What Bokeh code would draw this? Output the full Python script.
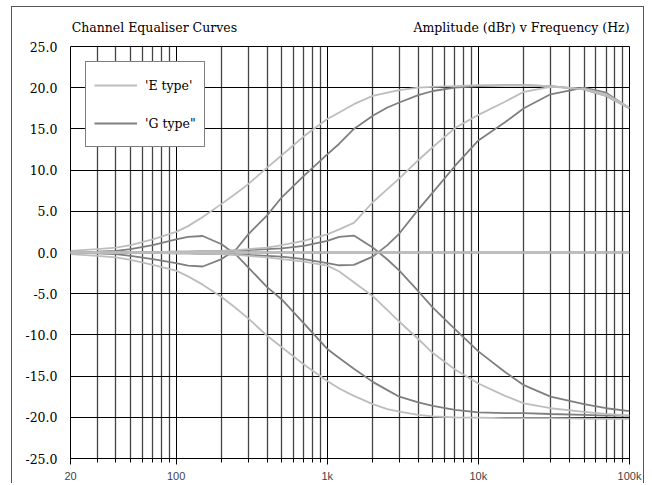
from bokeh.plotting import figure
from bokeh.models import (Range1d, FixedTicker, PrintfTickFormatter, LogAxis,
                          Legend, LegendItem)
from bokeh.embed import file_html
from bokeh.resources import INLINE

# ---- data ----
FREQ = [20, 30, 40, 50, 70, 100, 120, 150, 200, 250, 300, 400, 500, 700,
        1000, 1200, 1500, 2000, 2500, 3000, 4000, 5000, 7000, 10000, 15000,
        20000, 30000, 50000, 70000, 100000]

E_LOW_BOOST = [0.2, 0.4, 0.6, 0.9, 1.6, 2.5, 3.2, 4.3, 5.9, 7.2, 8.3, 10.3, 11.8, 14.1,
               16.2, 17.0, 18.0, 19.0, 19.4, 19.7, 20.0, 20.1, 20.2, 20.3, 20.3,
               20.3, 20.2, 19.8, 19.0, 17.5]
E_LOW_CUT = [-0.2, -0.4, -0.6, -0.9, -1.5, -2.2, -2.9, -3.9, -5.4, -6.8, -8.0, -10.1, -11.5, -13.6,
             -15.6, -16.5, -17.4, -18.4, -19.0, -19.3, -19.7, -19.9, -20.0, -20.05, -20.1,
             -20.1, -20.1, -20.15, -20.2, -20.2]
G_LOW_BOOST = [0.0, -0.1, -0.2, -0.4, -0.8, -1.3, -1.6, -1.7, -0.8, 0.4, 2.2, 4.5, 6.7, 9.3,
               11.9, 13.2, 15.0, 16.6, 17.6, 18.2, 19.1, 19.6, 20.0, 20.2, 20.3,
               20.3, 20.2, 19.8, 19.0, 17.5]
G_LOW_CUT = [0.0, 0.1, 0.2, 0.4, 0.9, 1.6, 1.9, 2.0, 1.0, -0.3, -1.8, -4.2, -5.7, -8.6,
             -11.7, -12.8, -14.1, -15.7, -16.7, -17.5, -18.2, -18.6, -19.1, -19.4, -19.5,
             -19.5, -19.6, -19.7, -19.8, -19.8]
E_HIGH_BOOST = [0.0, 0.0, 0.0, 0.05, 0.05, 0.1, 0.1, 0.15, 0.2, 0.3, 0.4, 0.6, 0.9, 1.4,
                2.2, 2.8, 3.6, 6.1, 7.7, 9.0, 11.2, 12.8, 15.1, 16.7, 18.3,
                19.5, 20.1, 19.9, 19.2, 17.6]
E_HIGH_CUT = [0.0, 0.0, 0.0, -0.05, -0.05, -0.1, -0.1, -0.15, -0.2, -0.3, -0.4, -0.6, -0.8, -1.1,
              -1.6, -2.3, -3.6, -5.3, -7.0, -8.4, -10.5, -12.2, -14.2, -15.9, -17.4,
              -18.3, -18.9, -19.35, -19.6, -19.8]
G_HIGH_BOOST = [0.0, 0.0, 0.0, -0.05, -0.05, -0.1, -0.1, -0.15, -0.2, -0.25, -0.3, -0.4, -0.5, -0.8,
                -1.3, -1.55, -1.5, -0.5, 0.9, 2.3, 5.2, 7.3, 10.5, 13.6, 15.8,
                17.5, 19.2, 20.0, 19.4, 17.5]
G_HIGH_CUT = [0.0, 0.0, 0.0, 0.05, 0.05, 0.1, 0.1, 0.15, 0.2, 0.25, 0.3, 0.4, 0.5, 0.8,
              1.4, 1.9, 2.05, 0.6, -0.85, -2.2, -4.7, -6.7, -9.3, -12.0, -14.5,
              -16.1, -17.5, -18.4, -18.9, -19.25]
FLAT = [0.0] * len(FREQ)

X_TICKS = [20, 100, 1000, 10000, 100000]
X_TICK_LABELS = ["20", "100", "1k", "10k", "100k"]
X_MINOR = [30, 40, 50, 60, 70, 80, 90,
           200, 300, 400, 500, 600, 700, 800, 900,
           2000, 3000, 4000, 5000, 6000, 7000, 8000, 9000,
           20000, 30000, 40000, 50000, 60000, 70000, 80000, 90000]
Y_TICKS = [-25, -20, -15, -10, -5, 0, 5, 10, 15, 20, 25]

# header texts, placed on an axis above the frame (centre positions in Hz)
HEADER_TEXTS = ["Channel Equaliser Curves", "Amplitude (dBr)  v  Frequency (Hz)"]
HEADER_POS = [71.8, 20500.0]
LEGEND_LABELS = ["'E type'", "'G type\""]

E_COLOR = "#bdbdbd"
G_COLOR = "#7f7f7f"
FONT = "DejaVu Serif"
FSIZE = "12.5px"

p = figure(width=633, height=477, x_axis_type="log",
           x_range=Range1d(20, 100000), y_range=Range1d(-25, 25),
           output_backend="svg", toolbar_location=None, title=None,
           min_border_left=58, min_border_right=16, min_border_top=39,
           min_border_bottom=26)
p.styles = {"margin-left": "11px", "margin-top": "6px",
            "border-left": "1px solid #555555", "border-top": "1px solid #555555",
            "border-right": "1px solid #555555"}

p.outline_line_color = "black"
p.outline_line_width = 1
p.background_fill_color = "white"
p.border_fill_color = "white"

xt = FixedTicker(ticks=X_TICKS, minor_ticks=X_MINOR)
p.xaxis.ticker = xt
p.xgrid.ticker = xt
p.xaxis.major_label_overrides = {float(v): s for v, s in zip(X_TICKS, X_TICK_LABELS)}
yt = FixedTicker(ticks=Y_TICKS)
p.yaxis.ticker = yt
p.ygrid.ticker = yt
p.yaxis.formatter = PrintfTickFormatter(format="%.1f")

top_axis = LogAxis(ticker=FixedTicker(ticks=HEADER_POS),
                   major_label_overrides={float(v): s for v, s in zip(HEADER_POS, HEADER_TEXTS)})
p.add_layout(top_axis, "above")

for ax in (p.xaxis[0], p.yaxis[0], top_axis):
    ax.axis_line_color = None
    ax.major_tick_line_color = None
    ax.minor_tick_line_color = None
    ax.major_tick_out = 0
    ax.major_tick_in = 0
    ax.minor_tick_out = 0
    ax.minor_tick_in = 0
    ax.major_label_text_font = FONT
    ax.major_label_text_font_size = FSIZE
    ax.major_label_text_color = "black"
p.xaxis[0].major_label_standoff = 5
p.yaxis.major_label_standoff = 13
top_axis.major_label_standoff = 12

p.xgrid.grid_line_color = "black"
p.xgrid.grid_line_width = 1
p.xgrid.minor_grid_line_color = "#444444"
p.xgrid.minor_grid_line_width = 1.3
p.ygrid.grid_line_color = "black"
p.ygrid.grid_line_width = 1

LW = 1.8
g_r = None
for ys in (G_LOW_BOOST, G_LOW_CUT, G_HIGH_BOOST, G_HIGH_CUT, FLAT):
    r = p.line(FREQ, ys, line_color=G_COLOR, line_width=LW)
    g_r = g_r or r
e_r = None
for ys in (E_LOW_BOOST, E_LOW_CUT, E_HIGH_BOOST, E_HIGH_CUT, FLAT):
    r = p.line(FREQ, ys, line_color=E_COLOR, line_width=LW)
    e_r = e_r or r

legend = Legend(items=[LegendItem(label=LEGEND_LABELS[0], renderers=[e_r]),
                       LegendItem(label=LEGEND_LABELS[1], renderers=[g_r])],
                location="top_left", margin=15, padding=8, spacing=8,
                glyph_width=43, glyph_height=30, label_standoff=8, label_height=30,
                border_line_color="black", border_line_width=1,
                background_fill_color="white", background_fill_alpha=1,
                label_text_font=FONT, label_text_font_size=FSIZE,
                label_text_color="black")
p.add_layout(legend, "center")

open("out.html", "w").write(file_html(p, INLINE))
